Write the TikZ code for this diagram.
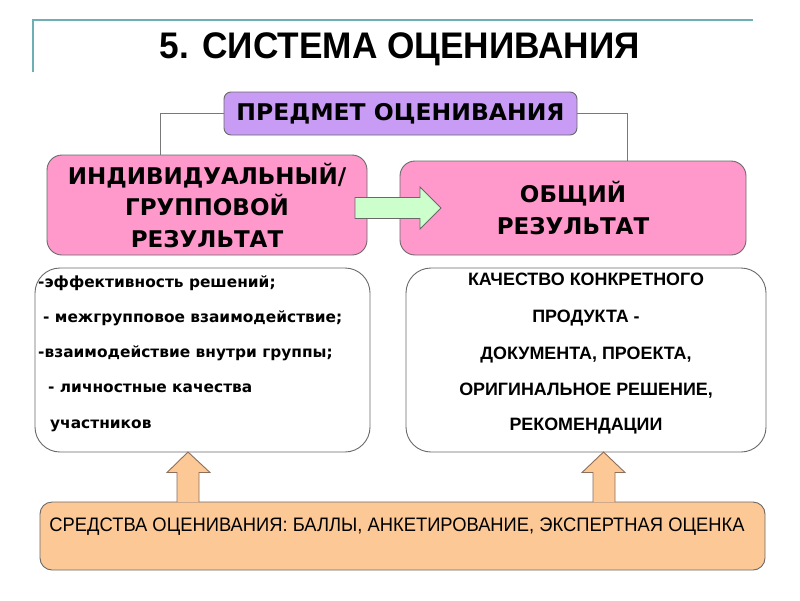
\documentclass[tikz,border=0pt]{standalone}
\usepackage{fontspec}
\usepackage{graphicx}
\setmainfont{Liberation Sans}
\newfontfamily\dvsans{DejaVu Sans}
\newcommand\fitw[2]{\resizebox{#1}{\height}{#2}}
\definecolor{tealline}{RGB}{110,175,180}
\definecolor{purplefill}{RGB}{200,155,245}
\definecolor{pinkfill}{RGB}{255,153,204}
\definecolor{greenfill}{RGB}{204,255,204}
\definecolor{peachfill}{RGB}{252,200,150}
\definecolor{edgegray}{RGB}{105,105,105}
\definecolor{conngray}{RGB}{120,120,120}
\definecolor{arrowedge}{RGB}{140,110,90}
\tikzset{
  boxbase/.style={draw=edgegray, line width=0.9pt, inner sep=0pt, align=center, text=black},
  purplebox/.style={boxbase, fill=purplefill, rounded corners=7pt, minimum width=353pt, minimum height=43pt},
  pinkbox/.style={boxbase, fill=pinkfill, rounded corners=15pt},
  whitebox/.style={boxbase, fill=white, rounded corners=25pt},
  peachbox/.style={boxbase, fill=peachfill, rounded corners=12pt, minimum width=725pt, minimum height=68pt},
  bigtxt/.style={font=\dvsans\bfseries\fontsize{23}{31.5}\selectfont},
  lefttxt/.style={anchor=base west, inner sep=0pt, font=\dvsans\bfseries\fontsize{15.4}{18}\selectfont},
  righttxt/.style={anchor=base, inner sep=0pt, font=\bfseries\fontsize{17.9}{21}\selectfont},
  conn/.style={draw=conngray, line width=0.9pt},
  greenarrow/.style={draw=edgegray, line width=0.9pt, fill=greenfill},
  peacharrow/.style={draw=arrowedge, line width=0.9pt, fill=peachfill},
}
\begin{document}
\begin{tikzpicture}[x=1pt,y=-1pt]
\useasboundingbox[fill=white] (0,0) rectangle (800,600);
% title frame
\coordinate (tl0) at (33,72);
\coordinate (tl1) at (33,20);
\coordinate (tl2) at (753,20);
\draw[tealline, line width=1.5pt] (tl0) -- (tl1) -- (tl2);
\node[inner sep=0pt] (title) at (400,49) {\fitw{480pt}{\fontsize{37}{40}\selectfont\bfseries 5. СИСТЕМА ОЦЕНИВАНИЯ}};
% boxes
\node[purplebox] (purple) at (400.5,113.5) {\fitw{328pt}{\dvsans\bfseries\fontsize{23}{28}\selectfont ПРЕДМЕТ ОЦЕНИВАНИЯ}};
\coordinate (lpT) at (160,155);
\coordinate (rpT) at (627,161);
\draw[conn] (purple.west) -| (lpT);
\draw[conn] (purple.east) -| (rpT);
\node[pinkbox, minimum width=320pt, minimum height=100pt, bigtxt] (lp) at (207,205) {ИНДИВИДУАЛЬНЫЙ/\\ГРУППОВОЙ\\РЕЗУЛЬТАТ};
\node[pinkbox, minimum width=346pt, minimum height=94pt, bigtxt] (rp) at (573,208) {ОБЩИЙ\\РЕЗУЛЬТАТ};
% green arrow
\draw[greenarrow] (355,197.5) -- (420,197.5) -- (420,187) -- (441,208) -- (420,229) -- (420,218.5) -- (355,218.5) -- cycle;
% white boxes
\node[whitebox, minimum width=335pt, minimum height=184pt] (lw) at (202.5,360) {};
\node[whitebox, minimum width=360pt, minimum height=184pt] (rw) at (586,360) {};
\node[lefttxt] (l1) at (38,287) {-эффективность решений;};
\node[lefttxt] (l2) at (43,322) {- межгрупповое взаимодействие;};
\node[lefttxt] (l3) at (38,357) {-взаимодействие внутри группы;};
\node[lefttxt] (l4) at (48,392) {- личностные качества};
\node[lefttxt] (l5) at (50,428) {участников};
\node[righttxt] (r1) at (586,285) {КАЧЕСТВО КОНКРЕТНОГО};
\node[righttxt] (r2) at (586,322) {ПРОДУКТА -};
\node[righttxt] (r3) at (586,359) {ДОКУМЕНТА, ПРОЕКТА,};
\node[righttxt] (r4) at (586,395) {ОРИГИНАЛЬНОЕ РЕШЕНИЕ,};
\node[righttxt] (r5) at (586,430) {РЕКОМЕНДАЦИИ};
% bottom box
\node[peachbox] (bot) at (402.5,536) {};
\node[inner sep=0pt] (bottxt) at (397,527) {\fitw{695pt}{\fontsize{19.5}{22}\selectfont СРЕДСТВА ОЦЕНИВАНИЯ: БАЛЛЫ, АНКЕТИРОВАНИЕ, ЭКСПЕРТНАЯ ОЦЕНКА}};
% peach arrows
\draw[peacharrow] (177,502) -- (177,472.5) -- (167,472.5) -- (188,452) -- (210,472.5) -- (199,472.5) -- (199,502);
\draw[peacharrow] (593,502) -- (593,472.5) -- (582,472.5) -- (603.5,452) -- (625,472.5) -- (615,472.5) -- (615,502);
\end{tikzpicture}
\end{document}
